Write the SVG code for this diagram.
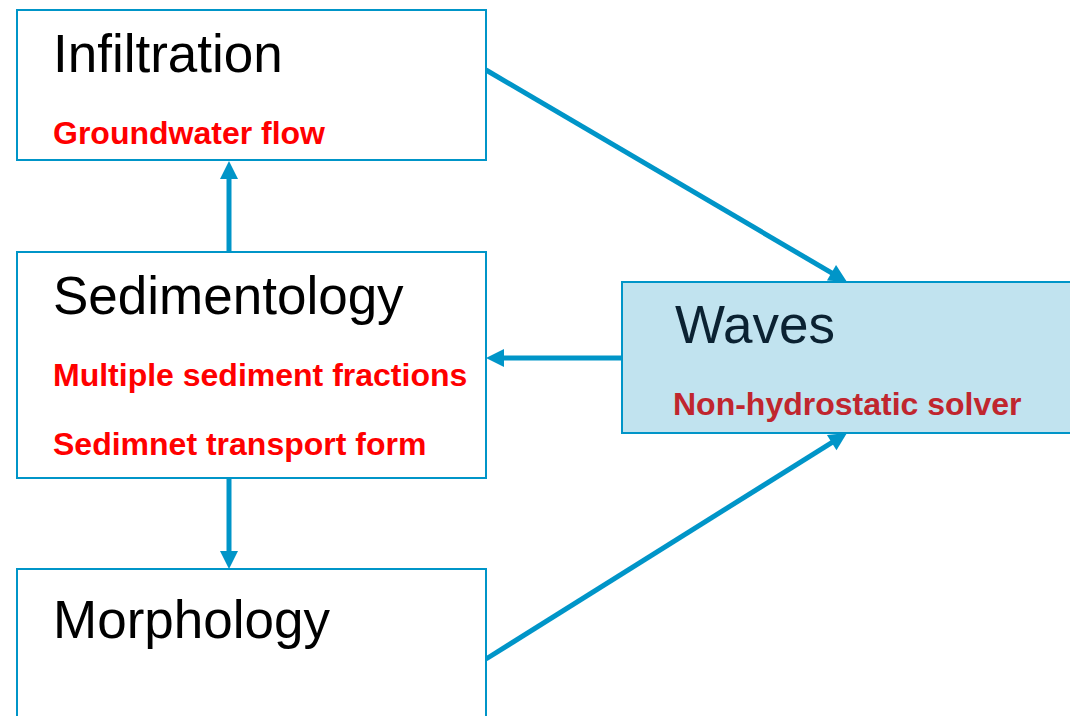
<svg xmlns="http://www.w3.org/2000/svg" width="1070" height="716" viewBox="0 0 1070 716">
  <style>
    .box { fill: #ffffff; stroke: #0095c8; stroke-width: 2; }
    .box-main { fill: #c1e3ef; stroke: #0095c8; stroke-width: 2; }
    .title { font-family: "Liberation Sans", Arial, sans-serif; font-size: 53px; fill: #000000; }
    .title-main { fill: #0b2232; }
    .sub { font-family: "Liberation Sans", Arial, sans-serif; font-size: 32px; font-weight: bold; fill: #ff0000; }
    .sub-main { fill: #c0262e; }
    .link { stroke: #0095c8; stroke-width: 5; fill: none; marker-end: url(#arrow); }
  </style>
  <defs>
    <marker id="arrow" markerUnits="userSpaceOnUse" markerWidth="18" markerHeight="18" refX="8" refY="9" orient="auto" overflow="visible">
      <path d="M0,0 L18,9 L0,18 Z" fill="#0095c8"/>
    </marker>
  </defs>
  <rect width="1070" height="716" fill="#ffffff"/>

  <!-- connectors -->
  <g id="connectors">
    <line class="link" x1="229" y1="252" x2="229" y2="171"/>
    <line class="link" x1="229" y1="478" x2="229" y2="559"/>
    <line class="link" x1="622" y1="358" x2="496" y2="358"/>
    <line class="link" x1="486" y1="70" x2="838.4" y2="276.9"/>
    <line class="link" x1="486" y1="659" x2="838.5" y2="438.3"/>
  </g>

  <!-- Infiltration -->
  <g id="infiltration">
    <rect class="box" x="17" y="10" width="469" height="150"/>
    <text class="title" x="53" y="72">Infiltration</text>
    <text class="sub" x="53" y="144">Groundwater flow</text>
  </g>

  <!-- Sedimentology -->
  <g id="sedimentology">
    <rect class="box" x="17" y="252" width="469" height="226"/>
    <text class="title" x="53" y="314">Sedimentology</text>
    <text class="sub" x="53" y="386">Multiple sediment fractions</text>
    <text class="sub" x="53" y="455">Sedimnet transport form</text>
  </g>

  <!-- Morphology -->
  <g id="morphology">
    <rect class="box" x="17" y="569" width="469" height="160"/>
    <text class="title" x="53" y="638">Morphology</text>
  </g>

  <!-- Waves -->
  <g id="waves">
    <rect class="box-main" x="622" y="282" width="460" height="151"/>
    <text class="title title-main" x="675" y="343">Waves</text>
    <text class="sub sub-main" x="673" y="415">Non-hydrostatic solver</text>
  </g>
</svg>
